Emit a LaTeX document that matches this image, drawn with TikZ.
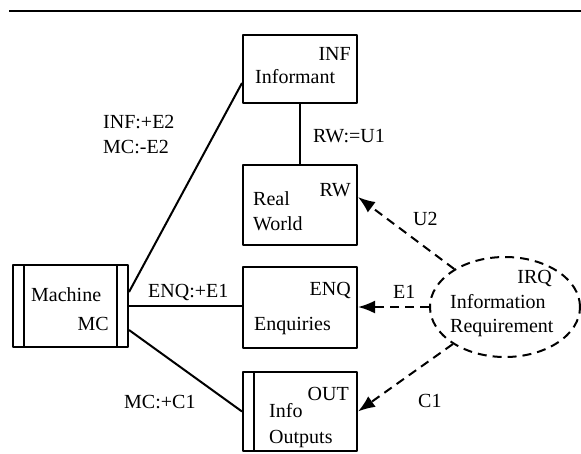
\documentclass[tikz,border=0pt]{standalone}
\usepackage{fontspec}
\setmainfont{Liberation Serif}
\usetikzlibrary{shapes.geometric,arrows.meta}
\begin{document}
\begin{tikzpicture}[x=1pt, y=-1pt, font=\fontsize{20}{24}\selectfont, line join=round, >={Latex[length=17pt,width=13pt]}]
\tikzset{every node/.style={inner sep=0pt}}
\tikzset{box/.style={draw, line width=2pt, minimum width=114pt}}
\tikzset{flow/.style={line width=2pt}}
\tikzset{dflow/.style={->, line width=2pt, dash pattern=on 9pt off 6pt}}
\useasboundingbox (0,0) rectangle (581,453);
\draw[line width=2.5pt] (9,11)--(581,11);
% boxes
\node[box, minimum height=68pt] (inf) at (300,69) {};
\node[box, minimum height=80pt] (rw) at (300,205) {};
\node[box, minimum height=81pt] (enq) at (300,307.5) {};
\node[box, minimum height=79pt] (out) at (300,411.5) {};
\node[box, minimum width=115pt, minimum height=82pt] (mc) at (70.5,306) {};
\node[draw, ellipse, line width=2pt, dash pattern=on 9pt off 6pt, minimum width=150pt, minimum height=100pt] (irq) at (505,307) {};
\draw[flow] ([xshift=12pt]mc.north west)--([xshift=12pt]mc.south west);
\draw[flow] ([xshift=-12pt]mc.north east)--([xshift=-12pt]mc.south east);
\draw[flow] ([xshift=12pt]out.north west)--([xshift=12pt]out.south west);
% box texts
\node[anchor=base east] (inftag) at (351,60) {INF};
\node[anchor=base west] (infname) at (255,83) {Informant};
\node[anchor=base east] (rwtag) at (351,196) {RW};
\node[anchor=base west] (rwname1) at (253,205) {Real};
\node[anchor=base west] (rwname2) at (253,230) {World};
\node[anchor=base east] (enqtag) at (351,295) {ENQ};
\node[anchor=base west] (enqname) at (254,330) {Enquiries};
\node[anchor=base east] (outtag) at (349,400) {OUT};
\node[anchor=base west] (outname1) at (269,417) {Info};
\node[anchor=base west] (outname2) at (269,443) {Outputs};
\node[anchor=base west] (mcname) at (31,301) {Machine};
\node[anchor=base east] (mctag) at (109,330) {MC};
\node[anchor=base east] (irqtag) at (552,283) {IRQ};
\node[anchor=base west] (irqname1) at (450,308) {Information};
\node[anchor=base west] (irqname2) at (450,332) {Requirement};
% connections
\draw[flow] ([yshift=14pt]mc.east)--([yshift=-14pt]inf.west);
\draw[flow] (mc.east)--(mc.east -| enq.west);
\draw[flow] ([yshift=-24pt]mc.east)--(out.west);
\draw[flow] (inf.south)--(rw.north);
\draw[dflow] (irq)--([yshift=8pt]rw.east);
\draw[dflow] (irq.west)--(irq.west -| enq.east);
\draw[dflow] (irq)--(out.east);
% connector labels
\node[anchor=base west] (infmc) at (103,128) {INF:+E2};
\node[anchor=base west] (mcinf) at (103,153) {MC:-E2};
\node[anchor=base west] (rwu) at (313,142) {RW:=U1};
\node[anchor=base west] (enqe) at (148,297) {ENQ:+E1};
\node[anchor=base west] (mcc) at (124,408) {MC:+C1};
\node[anchor=base west] (u2) at (413,225) {U2};
\node[anchor=base west] (e1) at (393,298) {E1};
\node[anchor=base west] (c1) at (418,407) {C1};
\end{tikzpicture}
\end{document}
